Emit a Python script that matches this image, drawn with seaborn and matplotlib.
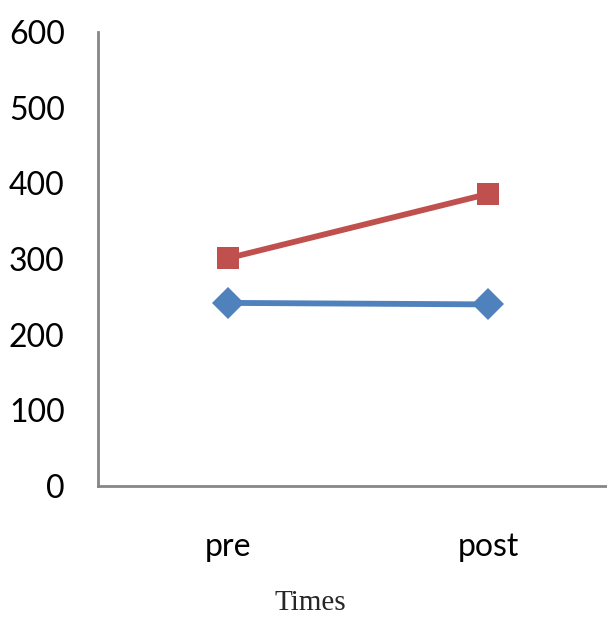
import matplotlib
matplotlib.use("Agg")
import matplotlib.pyplot as plt
import seaborn as sns
import pandas as pd

# Measurements at the two time points
times = ["pre", "post"]
series_a = [242, 240]
series_b = [301, 386]
y_ticks = [0, 100, 200, 300, 400, 500, 600]

df = pd.DataFrame({
    "time": times * 2,
    "value": series_a + series_b,
    "series": ["A"] * len(times) + ["B"] * len(times),
})

sns.set_theme(style="white")
plt.rcParams["font.family"] = ["Lato", "DejaVu Sans"]

W, H = 607, 618
fig = plt.figure(figsize=(W / 100, H / 100), dpi=100)
ax = fig.add_axes([98 / W, 132 / H, 520 / W, 454 / H])

sns.lineplot(
    data=df, x="time", y="value", hue="series", style="series",
    palette={"A": "#4F81BD", "B": "#C0504D"},
    markers={"A": "D", "B": "s"}, dashes=False,
    linewidth=4.2, markersize=16, markeredgewidth=0,
    legend=False, ax=ax, sort=False,
)

ax.set_xlim(-0.5, 1.5)
ax.set_ylim(0, 600)
ax.set_yticks(y_ticks)
ax.tick_params(axis="y", length=0, pad=24, labelsize=23, colors="black")
ax.tick_params(axis="x", length=0, pad=33, labelsize=23, colors="black")
ax.set_xlabel("Times", family=["Liberation Serif", "DejaVu Serif"], fontsize=21)
ax.xaxis.set_label_coords((310 - 98) / 520, -(616 - 486) / 454)
ax.xaxis.label.set_va("bottom")
ax.set_ylabel("")

for side in ["top", "right"]:
    ax.spines[side].set_visible(False)
for side in ["left", "bottom"]:
    ax.spines[side].set_color("#868686")
    ax.spines[side].set_linewidth(2)

for lbl in ax.get_xticklabels():
    lbl.set_va("top")

fig.savefig("out.png", dpi=100)
